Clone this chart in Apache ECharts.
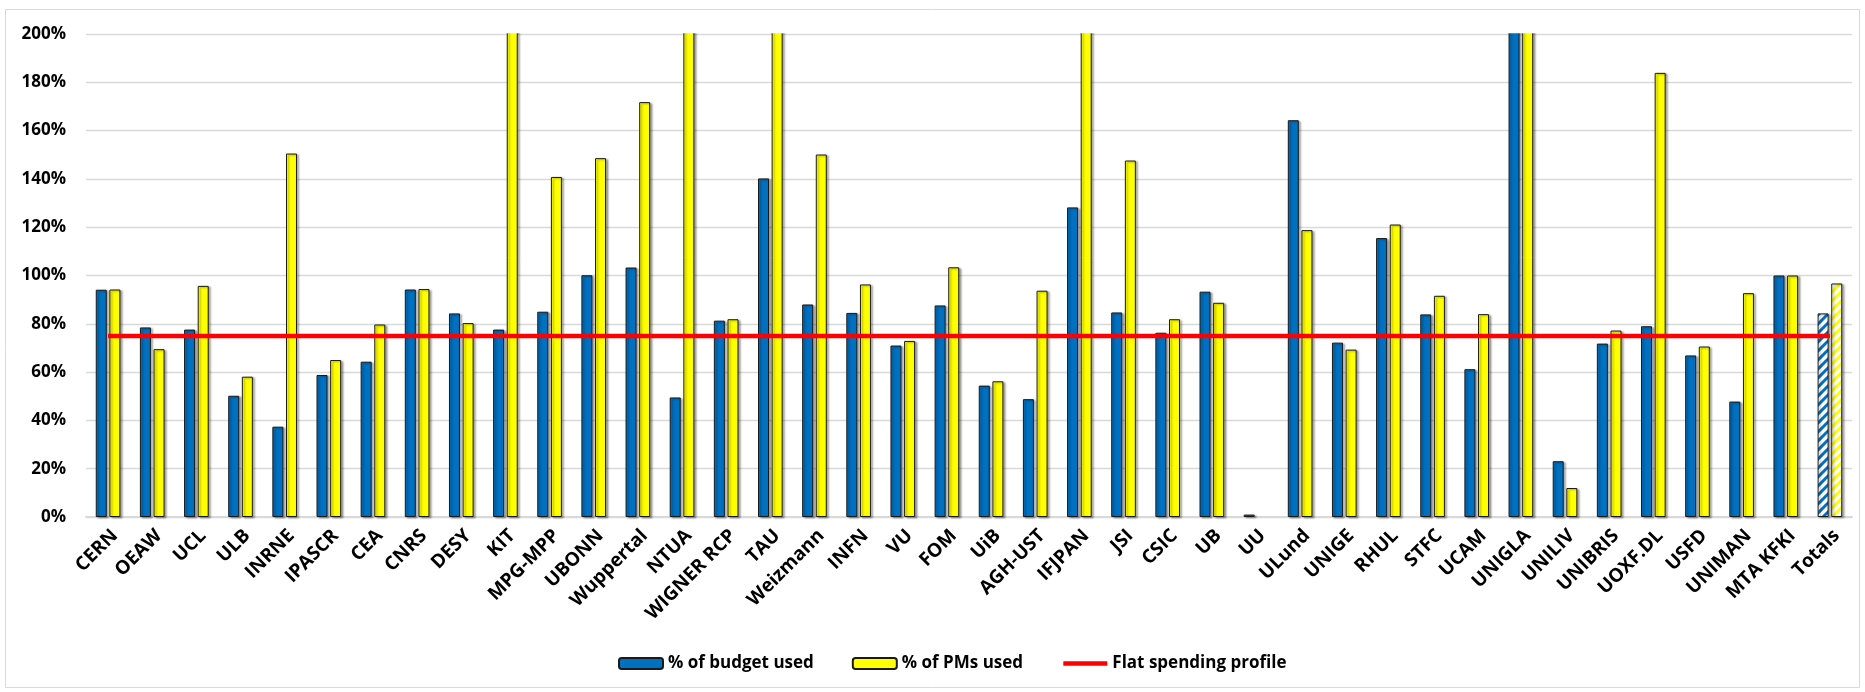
<!DOCTYPE html>
<html>
<head>
<meta charset="utf-8">
<script src="https://cdn.jsdelivr.net/npm/echarts@6/dist/echarts.min.js"></script>
<style>
html,body{margin:0;padding:0;background:#fff;}
#chart{width:1865px;height:692px;}
</style>
</head>
<body>
<div id="chart"></div>
<script>
var categories = ['CERN','OEAW','UCL','ULB','INRNE','IPASCR','CEA','CNRS','DESY','KIT','MPG-MPP','UBONN','Wuppertal','NTUA','WIGNER RCP','TAU','Weizmann','INFN','VU','FOM','UiB','AGH-UST','IFJPAN','JSI','CSIC','UB','UU','ULund','UNIGE','RHUL','STFC','UCAM','UNIGLA','UNILIV','UNIBRIS','UOXF.DL','USFD','UNIMAN','MTA KFKI','Totals'];
var budgetUsed = [94.1, 78.5, 77.6, 50.2, 37.4, 58.8, 64.3, 94.2, 84.3, 77.6, 85.0, 100.1, 103.3, 49.5, 81.3, 140.2, 88.0, 84.5, 71.0, 87.6, 54.4, 48.8, 128.2, 84.7, 76.3, 93.3, 1.0, 164.3, 72.2, 115.5, 83.9, 61.2, 230, 23.1, 71.8, 79.0, 66.9, 47.8, 100.0, 84.3];
var pmsUsed = [94.2, 69.5, 95.7, 58.1, 150.5, 65.0, 79.7, 94.4, 80.3, 230, 140.8, 148.6, 171.8, 230, 81.9, 230, 150.1, 96.3, 72.9, 103.4, 56.2, 93.7, 230, 147.6, 81.9, 88.7, null, 118.8, 69.3, 121.1, 91.6, 84.0, 230, 12.0, 77.2, 183.9, 70.6, 92.7, 100.0, 96.7];
var flatProfile = categories.map(function(){ return 75; });
var yTicks = {min: 0, max: 200, interval: 20};

var FONT = 'Open Sans';
var BLUE = '#0070C0', YELLOW = '#FFFF00';

function stripes(color) {
  var c = document.createElement('canvas');
  c.width = 9; c.height = 9;
  var g = c.getContext('2d');
  g.fillStyle = '#ffffff';
  g.fillRect(0, 0, 9, 9);
  g.strokeStyle = color;
  g.lineWidth = 3;
  g.beginPath();
  g.moveTo(-2, 11); g.lineTo(11, -2);
  g.moveTo(-7, 7); g.lineTo(7, -7);
  g.moveTo(2, 16); g.lineTo(16, 2);
  g.stroke();
  return {image: c, repeat: 'repeat'};
}

function barData(values, color) {
  return values.map(function(v, i) {
    if (categories[i] === 'Totals') {
      return {value: v, itemStyle: {color: stripes(color)}};
    }
    return v;
  });
}

var barStyle = function(color) {
  return {
    color: color,
    borderColor: '#1a1a1a',
    borderWidth: 1,
    shadowColor: 'rgba(0,0,0,0.35)',
    shadowOffsetX: 2,
    shadowOffsetY: 1,
    shadowBlur: 2
  };
};

var chart = echarts.init(document.getElementById('chart'), null, {renderer: 'canvas'});
chart.setOption({
  animation: false,
  backgroundColor: '#ffffff',
  textStyle: {fontFamily: FONT},
  grid: {left: 86, right: 13, top: 34, height: 483, containLabel: false},
  legend: {
    left: 613, top: 650,
    itemWidth: 44, itemHeight: 11, itemGap: 38,
    textStyle: {fontFamily: FONT, fontWeight: 'bold', fontSize: 17, color: '#000'},
    data: ['% of budget used', '% of PMs used',
      {name: 'Flat spending profile', itemStyle: {opacity: 0}, lineStyle: {width: 4.5, color: '#FF0000'}}]
  },
  xAxis: {
    type: 'category',
    data: categories,
    axisLine: {lineStyle: {color: '#d9d9d9', width: 2}},
    axisTick: {show: false},
    axisLabel: {
      interval: 0, rotate: 45, margin: 9, verticalAlign: 'top',
      fontFamily: FONT, fontWeight: 'bold', fontSize: 19, color: '#000'
    }
  },
  yAxis: {
    type: 'value',
    min: yTicks.min, max: yTicks.max, interval: yTicks.interval,
    axisLine: {show: false},
    axisTick: {show: false},
    axisLabel: {
      formatter: '{value}%', margin: 20,
      fontFamily: FONT, fontWeight: 'bold', fontSize: 17, color: '#000'
    },
    splitLine: {lineStyle: {color: '#d9d9d9', width: 1.3}}
  },
  series: [
    {
      name: '% of budget used', type: 'bar',
      data: barData(budgetUsed, BLUE),
      barWidth: 11, barGap: '24%',
      itemStyle: barStyle(BLUE),
      clip: false
    },
    {
      name: '% of PMs used', type: 'bar',
      data: barData(pmsUsed, YELLOW),
      barWidth: 11, barGap: '24%',
      itemStyle: barStyle(YELLOW),
      clip: false
    },
    {
      name: 'Flat spending profile', type: 'line',
      data: flatProfile,
      symbol: 'none', showSymbol: false,
      lineStyle: {color: '#FF0000', width: 4.5},
      itemStyle: {color: '#FF0000', opacity: 0},
      z: 5
    }
  ]
});

// Mask the part of over-range bars above the 200% line (like Excel clipping), then the chart-area border.
var topY = chart.convertToPixel({yAxisIndex: 0}, yTicks.max);
chart.setOption({
  graphic: [
    {
      type: 'rect', silent: true, z: 100,
      shape: {x: 80, y: 0, width: 1865 - 80, height: topY - 0.7},
      style: {fill: '#ffffff'}
    },
    {
      type: 'rect', silent: true, z: 101,
      shape: {x: 5.5, y: 9.5, width: 1854, height: 678},
      style: {fill: 'none', stroke: '#d9d9d9', lineWidth: 1}
    }
  ]
});
</script>
</body>
</html>
